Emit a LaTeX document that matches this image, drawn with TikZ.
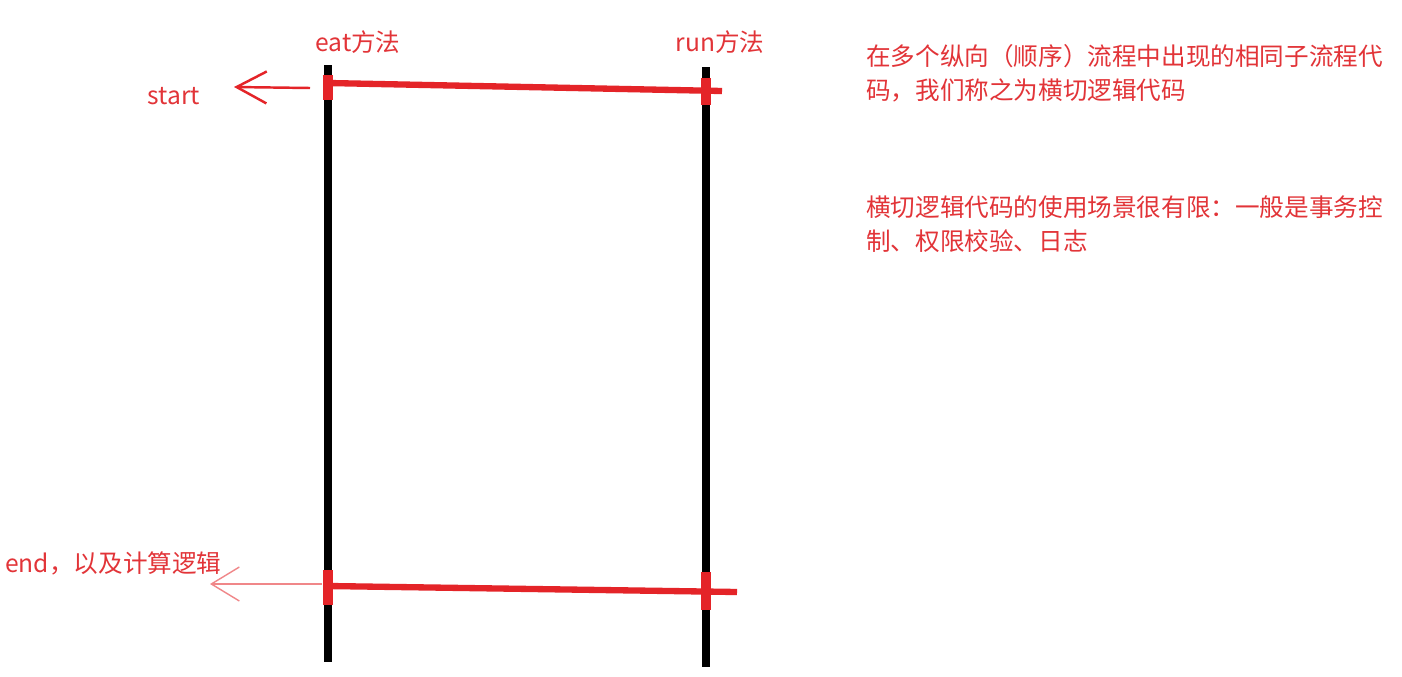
\documentclass[tikz,border=0pt]{standalone}
\usepackage{fontspec}
\setmainfont{Noto Sans CJK SC}
\usepackage{tikz}
\usetikzlibrary{arrows.meta,positioning}
\definecolor{cutred}{RGB}{228,36,40}
\definecolor{notered}{RGB}{226,52,56}
\tikzset{
    lifeline/.style={draw=black, line width=4.5pt},
    cutline/.style={draw=cutred, line width=3.6pt},
    cutmark/.style={draw=cutred, line width=5.8pt},
    backarrow/.style={draw=cutred, line width=1.4pt, -{Straight Barb[length=0.6cm,width=0.64cm]}},
    thinarrow/.style={draw=cutred!55, line width=0.8pt, -{Straight Barb[length=0.56cm,width=0.68cm]}},
    redtext/.style={text=notered, font=\fontsize{14}{19.5}\selectfont, inner sep=0pt}
}
\begin{document}
\begin{tikzpicture}[x=0.02cm, y=-0.02cm]
    \path [fill=white] (0,0) rectangle (1402,676);
    \useasboundingbox (0,0) rectangle (1402,676);

    % Method lines
    \coordinate (eattop) at (328,65);
    \coordinate (eatbot) at (328,662);
    \coordinate (runtop) at (706,67);
    \coordinate (runbot) at (706,667);
    \path [lifeline] (eattop) -- (eatbot);
    \path [lifeline] (runtop) -- (runbot);

    % Cross-cutting lines
    \coordinate (startl) at (328,83);
    \coordinate (startr) at (722,91);
    \coordinate (endl) at (328,586);
    \coordinate (endr) at (737,592);
    \path [cutline] (startl) -- (startr);
    \path [cutline] (endl) -- (endr);

    % Join marks
    \path [cutmark] ([shift={(0,-8)}]startl) -- ([shift={(0,17)}]startl);
    \path [cutmark] (706,78) -- (706,105);
    \path [cutmark] ([shift={(0,-16)}]endl) -- ([shift={(0,19)}]endl);
    \path [cutmark] (706,572) -- (706,610);

    % Labels
    \node [redtext] (eat) at (358,42) {eat方法};
    \node [redtext] (run) at (720,42) {run方法};
    \node [redtext] (start) at (174,96) {start};
    \node [redtext, anchor=west] (end) at (5,563) {end，以及计算逻辑};

    % Arrows
    \coordinate (starttail) at (310,88);
    \coordinate (endtail) at (322,584);
    \path [backarrow] (starttail) -- (234,87);
    \path [thinarrow] (endtail) -- (210,584);

    % Notes
    \node [redtext, anchor=west, align=left] (desc) at (866,73)
        {在多个纵向（顺序）流程中出现的相同子流程代\\码，我们称之为横切逻辑代码};
    \node [redtext, anchor=west, align=left] (usage) at (866,224)
        {横切逻辑代码的使用场景很有限：一般是事务控\\制、权限校验、日志};
\end{tikzpicture}
\end{document}
